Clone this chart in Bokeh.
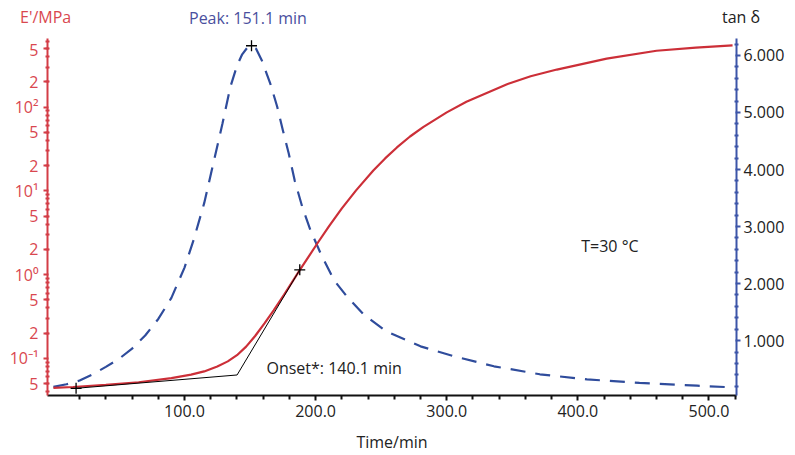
from bokeh.plotting import figure
from bokeh.layouts import column
from bokeh.models import (Range1d, LinearAxis, LinearScale, FixedTicker,
                          NumeralTickFormatter, Label, Div)
from bokeh.embed import file_html
from bokeh.resources import INLINE

# ---------------- data ----------------
# storage modulus E' (MPa) vs time (min)
t_E = [0, 15, 40, 65, 90, 105, 115, 125, 133, 140, 147, 154, 161, 168, 176,
       188, 201, 210, 220, 231, 244, 253, 262, 272, 282, 300, 315, 346, 364,
       384, 422, 460, 490, 518]
E_mod = [0.0443, 0.0455, 0.0481, 0.0518, 0.0581, 0.0640, 0.0698, 0.0798,
         0.0920, 0.109, 0.138, 0.186, 0.261, 0.375, 0.577, 1.137, 2.32, 3.75,
         6.18, 10.2, 17.5, 24.4, 33.0, 44.6, 57.8, 86.6, 116, 188, 234, 281,
         380, 471, 514, 547]

# tan delta vs time (min)
t_tan = [0, 10, 20, 30, 40, 50, 60, 70, 80, 90, 100, 107, 115, 122, 129, 135,
         140, 144, 148, 151.1, 154.5, 159, 165.5, 170.7, 175, 179.5, 184, 190,
         196, 204, 214, 224, 237, 254, 280, 305, 336, 371, 407, 447, 491, 518]
tan_d = [0.19, 0.235, 0.30, 0.41, 0.54, 0.68, 0.86, 1.09, 1.38, 1.75, 2.28,
         2.77, 3.41, 4.11, 4.81, 5.45, 5.82, 6.02, 6.14, 6.17, 6.12, 5.91,
         5.50, 5.10, 4.69, 4.28, 3.81, 3.33, 2.94, 2.52, 2.06, 1.77, 1.45,
         1.16, 0.90, 0.73, 0.55, 0.41, 0.32, 0.26, 0.21, 0.18]

# onset construction (baseline + tangent)
onset_t = [17.3, 140.1, 187.9]
onset_E = [0.0439, 0.0633, 1.14]
mark_t = [17.3, 187.9]
mark_E = [0.0439, 1.14]
peak_t = [151.1]
peak_tan = [6.17]

# ticks
x_major = [100, 200, 300, 400, 500]
x_minor = [20, 40, 60, 80, 120, 140, 160, 180, 220, 240, 260, 280, 320, 340,
           360, 380, 420, 440, 460, 480, 520]
E_major = [0.05, 0.1, 0.2, 0.5, 1, 2, 5, 10, 20, 50, 100, 200, 500]
E_labels = ["5", "10\u207b\u00b9", "2", "5", "10\u2070", "2", "5", "10\u00b9",
            "2", "5", "10\u00b2", "2", "5"]
E_minor = [0.04, 0.05, 0.06, 0.07, 0.08, 0.09, 0.2, 0.3, 0.4, 0.5, 0.6, 0.7,
           0.8, 0.9, 2, 3, 4, 5, 6, 7, 8, 9, 20, 30, 40, 50, 60, 70, 80, 90,
           200, 300, 400, 500, 600]
tan_major = [1, 2, 3, 4, 5, 6]
tan_minor = [0.2, 0.4, 0.6, 0.8, 1.2, 1.4, 1.6, 1.8, 2.2, 2.4, 2.6, 2.8, 3.2,
             3.4, 3.6, 3.8, 4.2, 4.4, 4.6, 4.8, 5.2, 5.4, 5.6, 5.8, 6.2]

# ---------------- style ----------------
RED = "#cc2f38"
RED_AX = "#d33d46"
RED_TXT = "#d9474f"
BLUE = "#2f4c9c"
BLUE_AX = "#3c55a8"
PURPLE = "#4a4f9e"
DARK = "#222222"
FONT = "Open Sans"
FS = "16px"

p = figure(width=795, height=417, output_backend="svg", toolbar_location=None,
           x_range=Range1d(-4.5, 521), y_range=Range1d(0.036, 660),
           y_axis_type="log",
           min_border_left=47, min_border_right=59, min_border_top=0,
           min_border_bottom=59)
p.extra_y_ranges = {"tan": Range1d(0.038, 6.297)}
p.extra_y_scales = {"tan": LinearScale()}
p.outline_line_color = None
p.grid.visible = False
p.background_fill_color = "white"

# x axis
xa = p.xaxis[0]
xa.ticker = FixedTicker(ticks=x_major, minor_ticks=x_minor)
xa.formatter = NumeralTickFormatter(format="0.0")
xa.axis_line_color = "#111111"
xa.axis_line_width = 2
xa.major_tick_line_color = "#111111"
xa.minor_tick_line_color = "#111111"
xa.major_tick_line_width = 2
xa.minor_tick_line_width = 2
xa.major_tick_in = 0
xa.major_tick_out = 5
xa.minor_tick_in = 0
xa.minor_tick_out = 4
xa.major_label_text_font = FONT
xa.major_label_text_font_size = FS
xa.major_label_text_color = DARK
xa.major_label_standoff = 4
xa.axis_label = "Time/min"
xa.axis_label_text_font = FONT
xa.axis_label_text_font_size = FS
xa.axis_label_text_font_style = "normal"
xa.axis_label_text_color = DARK
xa.axis_label_standoff = 11

# left (log) axis
ya = p.yaxis[0]
ya.ticker = FixedTicker(ticks=E_major, minor_ticks=E_minor)
ya.major_label_overrides = {v: s for v, s in zip(E_major, E_labels)}
ya.axis_line_color = RED_AX
ya.axis_line_width = 2
ya.major_tick_line_color = RED_AX
ya.minor_tick_line_color = RED_AX
ya.major_tick_line_width = 2
ya.minor_tick_line_width = 2
ya.major_tick_in = 1
ya.major_tick_out = 4
ya.minor_tick_in = 2
ya.minor_tick_out = 2
ya.major_label_text_font = FONT
ya.major_label_text_font_size = FS
ya.major_label_text_color = RED_TXT
ya.major_label_standoff = 5

# right axis
ra = LinearAxis(y_range_name="tan",
                ticker=FixedTicker(ticks=tan_major, minor_ticks=tan_minor),
                formatter=NumeralTickFormatter(format="0.000"))
ra.axis_line_color = BLUE_AX
ra.axis_line_width = 2
ra.major_tick_line_color = BLUE_AX
ra.minor_tick_line_color = BLUE_AX
ra.major_tick_line_width = 2
ra.minor_tick_line_width = 2
ra.major_tick_in = 1
ra.major_tick_out = 4
ra.minor_tick_in = 2
ra.minor_tick_out = 2
ra.major_label_text_font = FONT
ra.major_label_text_font_size = FS
ra.major_label_text_color = DARK
ra.major_label_standoff = 3
p.add_layout(ra, "right")

# curves
p.line(t_tan, tan_d, y_range_name="tan", line_color=BLUE, line_width=2.2,
       line_dash="15 10")
p.line(t_E, E_mod, line_color=RED, line_width=2.2)
p.line(onset_t, onset_E, line_color="black", line_width=1)
p.scatter(mark_t, mark_E, marker="cross", size=11, line_color="black",
          line_width=1.3)
p.scatter(peak_t, peak_tan, y_range_name="tan", marker="cross", size=11,
          line_color="black", line_width=1.3)

# texts inside the plot area
def lab(x, y, text, color, align="left"):
    p.add_layout(Label(x=x, y=y, y_range_name="tan", text=text,
                       text_font=FONT, text_font_size=FS, text_color=color,
                       text_align=align, text_baseline="middle"))

lab(162.5, 0.528, "Onset*: 140.1 min", DARK)
lab(402.6, 2.66, "T=30 \u00b0C", DARK)

# header row: axis titles and peak annotation
span = ("position:absolute;top:{t}px;left:{l}px;color:{c};white-space:nowrap;"
        "line-height:20px;")
header = (
    '<div style="position:relative;width:795px;height:38px;'
    "font-family:'Open Sans';font-size:16px;\">"
    f'<span style="{span.format(t=7, l=20, c=RED_TXT)}">E\'/MPa</span>'
    f'<span style="{span.format(t=8, l=189, c=PURPLE)}">Peak: 151.1 min</span>'
    f'<span style="{span.format(t=7, l=722, c=DARK)}">tan \u03b4</span>'
    '</div>'
)
top = Div(text=header, width=795, height=38, margin=0)

layout = column(top, p, spacing=0)
open("out.html", "w").write(file_html(layout, INLINE))
